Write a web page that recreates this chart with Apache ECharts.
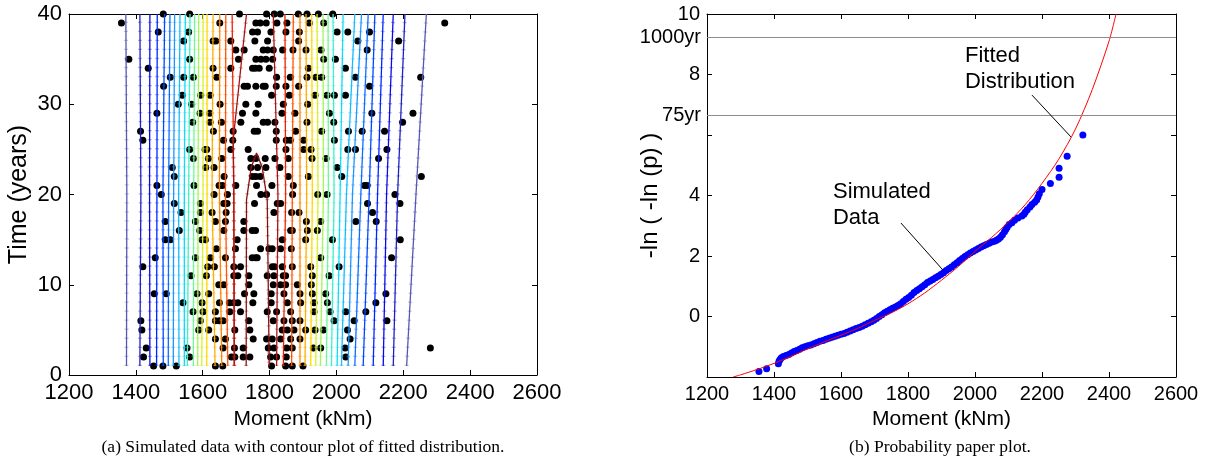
<!DOCTYPE html>
<html>
<head>
<meta charset="utf-8">
<script src="https://cdn.jsdelivr.net/npm/echarts@6/dist/echarts.min.js"></script>
<style>
  html, body { margin: 0; padding: 0; background: #ffffff; }
  #chart { width: 1210px; height: 470px; }
</style>
</head>
<body>
<div id="chart"></div>
<script>
// ---------------- data ----------------
const momentTicks = [1200, 1400, 1600, 1800, 2000, 2200, 2400, 2600];
const yearTicks = [0, 10, 20, 30, 40];

// Contour lines of the fitted distribution: moment at years 1, 20 and 40
const contourYears = [1, 20, 40];
const leftContours = [
  [1372, 1373, 1370], [1412, 1415, 1412], [1442, 1441, 1442], [1462, 1463, 1464],
  [1482, 1481, 1486], [1497, 1498, 1502], [1512, 1513, 1516], [1529, 1528, 1532],
  [1545, 1545, 1548], [1554, 1558, 1562], [1572, 1573, 1576], [1585, 1586, 1588],
  [1597, 1601, 1601], [1612, 1613, 1613], [1637, 1628, 1631], [1657, 1650, 1651],
  [1675, 1668, 1669], [1695, 1693, 1688]
];
const rightContours = [
  [2210, 2238, 2269], [2170, 2183, 2205], [2140, 2150, 2170], [2110, 2123, 2140],
  [2080, 2098, 2115], [2055, 2073, 2095], [2035, 2048, 2075], [2015, 2030, 2055],
  [2002, 2011, 2020], [1985, 1993, 1990], [1970, 1976, 1975], [1952, 1961, 1960],
  [1938, 1945, 1942], [1923, 1928, 1926], [1906, 1911, 1909], [1891, 1891, 1891],
  [1866, 1868, 1871], [1841, 1848, 1846], [1821, 1825, 1811]
];
const innerContourMoments = [1694, 1693, 1691, 1731];
const innerContourYears = [1, 20, 26, 40];
const peakContourMoments = [1730, 1731, 1745, 1761, 1778, 1793, 1799];
const peakContourYears = [1, 19.4, 23, 24.6, 23, 19.4, 1];

// Simulated moments, one list per year (years 1..40)
const simulatedByYear = [
  [1453, 1481, 1521, 1638, 1660, 1806, 1848, 1868, 1900],
  [1423, 1561, 1686, 1696, 1721, 1741, 1803, 1821, 1850, 2028],
  [1431, 1553, 1661, 1695, 1721, 1796, 1813, 1851, 1868, 1931, 1953, 2026, 2281],
  [1638, 1668, 1751, 1791, 1808, 1833, 1863, 1891, 2041],
  [1418, 1588, 1618, 1696, 1741, 1838, 1853, 1873, 1908, 1936, 1961, 2033],
  [1415, 1593, 1638, 1650, 1661, 1738, 1811, 1843, 1868, 1891, 1993, 2053, 2151],
  [1571, 1601, 1638, 1681, 1713, 1793, 1821, 1863, 1933, 1981, 2028, 2088],
  [1541, 1598, 1650, 1680, 1693, 1705, 1750, 1805, 1853, 1893, 1933, 1973, 2118],
  [1455, 1491, 1583, 1618, 1725, 1753, 1805, 1843, 1891, 1928, 1968, 2148],
  [1648, 1663, 1738, 1811, 1833, 1848, 1883, 1925],
  [1565, 1611, 1693, 1705, 1738, 1793, 1813, 1841, 1848, 1928, 1978],
  [1421, 1615, 1635, 1693, 1713, 1808, 1815, 1838, 1868, 1923, 2008],
  [1458, 1578, 1623, 1668, 1748, 1758, 1763, 1953, 2165],
  [1641, 1698, 1773, 1798, 1808, 1833, 1865],
  [1488, 1503, 1598, 1608, 1703, 1838, 1908, 1988, 2191],
  [1530, 1591, 1663, 1723, 1748, 1758, 1863, 1868, 1913, 1943],
  [1488, 1578, 1638, 1668, 1723, 1910, 1953, 2058, 2119],
  [1535, 1593, 1628, 1670, 1813, 1866, 1888, 2108],
  [1515, 1593, 1663, 1673, 1755, 1823, 1833, 2093, 2190],
  [1476, 1634, 1674, 1774, 1791, 1869, 1944, 1972, 2175],
  [1463, 1574, 1649, 1659, 1699, 1761, 1807, 1871, 2084, 2092],
  [1515, 1664, 1749, 1759, 1772, 1856, 1916, 2016, 2254],
  [1509, 1609, 1634, 1744, 1764, 1789, 1831, 2002],
  [1572, 1617, 1657, 1744, 1759, 1787, 1816, 1856, 1927, 1969, 2126],
  [1561, 1607, 1612, 1684, 1736, 1849, 1902, 1924, 2034, 2057, 2151],
  [1421, 1662, 1690, 1820, 1850, 1862, 1902, 1994],
  [1414, 1632, 1691, 1754, 1764, 1820, 1878, 1956, 2036, 2077, 2144],
  [1570, 1622, 1656, 1714, 1781, 1794, 1816, 1912, 1992, 2198],
  [1463, 1592, 1621, 1719, 1759, 1837, 1876, 1979, 2106, 2229],
  [1527, 1567, 1652, 1729, 1766, 1841, 1914],
  [1539, 1594, 1622, 1806, 1859, 1936, 1972, 1994, 2027],
  [1483, 1724, 1734, 1759, 1781, 1787, 1820, 1849, 1887, 2099],
  [1503, 1543, 1572, 1642, 1821, 1862, 1912, 1939, 1956, 2057, 2252],
  [1437, 1631, 1684, 1749, 1757, 1769, 1799, 1916, 2027],
  [1379, 1561, 1707, 1759, 1774, 1789, 1809, 1962, 1997],
  [1699, 1724, 1781, 1794, 1811, 1839, 1870, 1909, 1954, 2092],
  [1543, 1631, 1639, 1684, 1756, 1794, 1887, 2064, 2186],
  [1467, 1558, 1749, 1764, 1804, 1849, 1889, 2002, 2034, 2099],
  [1357, 1651, 1759, 1772, 1790, 1822, 1852, 1919, 1962, 2324],
  [1482, 1561, 1710, 1791, 1814, 1832, 1886, 1912, 1946, 1989]
];

// Probability paper: simulated data
const paperMoment = [
  1355, 1378, 1413, 1415, 1418, 1422, 1428, 1436, 1444, 1452, 1460, 1468, 1476, 1484, 1492,
  1501, 1510, 1519, 1528, 1537, 1546, 1555, 1564, 1573, 1582, 1591, 1600, 1609, 1618, 1627,
  1636, 1645, 1654, 1663, 1672, 1681, 1690, 1698, 1706, 1714, 1722, 1730, 1738, 1746, 1754,
  1762, 1770, 1778, 1786, 1794, 1802, 1810, 1818, 1826, 1834, 1842, 1850, 1858, 1866, 1874,
  1882, 1890, 1898, 1906, 1914, 1922, 1930, 1938, 1946, 1954, 1962, 1970, 1978, 1986, 1994,
  2002, 2010, 2018, 2026, 2034, 2042, 2050, 2058, 2064, 2070, 2076, 2082, 2088, 2092, 2096,
  2102, 2110, 2118, 2128, 2140, 2146, 2150, 2156, 2164, 2170, 2178, 2184, 2188, 2192, 2200,
  2225, 2251, 2251, 2275, 2322
];
const paperVariate = [
  -1.82, -1.73, -1.56, -1.48, -1.42, -1.36, -1.32, -1.29, -1.26, -1.21, -1.16, -1.12, -1.08, -1.03, -1.00,
  -0.97, -0.94, -0.90, -0.86, -0.82, -0.79, -0.75, -0.72, -0.69, -0.65, -0.62, -0.59, -0.56, -0.52, -0.48,
  -0.44, -0.40, -0.36, -0.32, -0.27, -0.22, -0.17, -0.12, -0.07, 0.00, 0.06, 0.12, 0.17, 0.22, 0.27,
  0.31, 0.36, 0.42, 0.50, 0.57, 0.63, 0.70, 0.79, 0.86, 0.92, 0.98, 1.05, 1.12, 1.17, 1.22,
  1.28, 1.33, 1.39, 1.45, 1.52, 1.58, 1.64, 1.71, 1.78, 1.85, 1.92, 1.98, 2.04, 2.10, 2.15,
  2.20, 2.25, 2.30, 2.34, 2.38, 2.42, 2.46, 2.49, 2.52, 2.56, 2.62, 2.70, 2.80, 2.88, 2.95,
  3.04, 3.10, 3.18, 3.26, 3.32, 3.38, 3.45, 3.53, 3.62, 3.70, 3.78, 3.85, 3.95, 4.06, 4.20,
  4.40, 4.60, 4.90, 5.30, 6.00
];

// Probability paper: fitted distribution
const fitMoment = [1278, 1300, 1350, 1400, 1450, 1500, 1550, 1600, 1650, 1700, 1750, 1800, 1850,
  1900, 1950, 2000, 2050, 2100, 2150, 2200, 2250, 2300, 2350, 2400, 2421];
const fitVariate = [-2.00, -1.93, -1.75, -1.55, -1.32, -1.07, -0.84, -0.62, -0.39, -0.13, 0.12, 0.42, 0.78,
  1.20, 1.65, 2.15, 2.62, 3.12, 3.70, 4.40, 5.20, 6.20, 7.50, 9.10, 10.00];

// Return-period levels on the reduced-variate axis
const returnLabels = ['1000yr', '75yr'];
const returnVariate = [9.22, 6.64];
const variateTicks = [-2, 0, 2, 4, 6, 8, 10];
const hiddenVariateTicks = [-2, 6];

// ---------------- styles ----------------
const contourPalette = [
  '#5656b4', '#2020c0', '#0a0ae6', '#0026ff', '#0048ff', '#0a6eff', '#1e96ff', '#16bcff',
  '#10dcf4', '#3ef0c8', '#70f896', '#a6f45e', '#d8f02a', '#ffd800', '#ffae00', '#ff8400',
  '#ff5400', '#e82400', '#a81414'
];
const leftColorIndex = [0, 1, 2, 3, 4, 5, 6, 7, 8, 9, 10, 11, 12, 13, 14, 15, 16, 17];
const peakColor = '#8c1010';
const FONT = 'Liberation Sans, Arial, sans-serif';

const chart = echarts.init(document.getElementById('chart'), null, { renderer: 'canvas' });

const series = [];

function addContour(points, color) {
  series.push({
    type: 'line', xAxisIndex: 0, yAxisIndex: 0, data: points,
    symbol: 'none', silent: true, z: 3, animation: false,
    lineStyle: { color: color, width: 1.3 }
  });
  // small comb marks at each year along the contour
  series.push({
    type: 'line', xAxisIndex: 0, yAxisIndex: 0, data: points,
    symbol: 'none', silent: true, z: 2, animation: false,
    lineStyle: { color: color, width: 4, opacity: 0.35, type: [1.3, 7.725], cap: 'butt' }
  });
}

leftContours.forEach((xs, i) => {
  addContour(contourYears.map((yr, k) => [xs[k], yr]), contourPalette[leftColorIndex[i]]);
});
rightContours.forEach((xs, i) => {
  addContour(contourYears.map((yr, k) => [xs[k], yr]), contourPalette[i]);
});
addContour(innerContourYears.map((yr, k) => [innerContourMoments[k], yr]), contourPalette[18]);
addContour(peakContourYears.map((yr, k) => [peakContourMoments[k], yr]), peakColor);

const scatterPoints = [];
simulatedByYear.forEach((row, i) => row.forEach(m => scatterPoints.push([m, i + 1])));
series.push({
  type: 'scatter', xAxisIndex: 0, yAxisIndex: 0, data: scatterPoints,
  symbol: 'circle', symbolSize: 7, clip: false, z: 1, animation: false,
  itemStyle: { color: '#000000', opacity: 1 }
});

series.push({
  type: 'scatter', xAxisIndex: 2, yAxisIndex: 2,
  data: paperMoment.map((m, i) => [m, paperVariate[i]]),
  symbol: 'circle', symbolSize: 7, z: 3, animation: false,
  itemStyle: { color: '#0000ff', opacity: 1 }
});
series.push({
  type: 'line', xAxisIndex: 2, yAxisIndex: 2,
  data: fitMoment.map((m, i) => [m, fitVariate[i]]),
  symbol: 'none', smooth: 0.3, z: 4, animation: false,
  lineStyle: { color: '#ff0000', width: 1 },
  markLine: {
    silent: true, symbol: 'none', animation: false,
    lineStyle: { color: '#8c8c8c', width: 1, type: 'solid' },
    label: { show: true, position: 'start', color: '#000', fontSize: 20, fontFamily: FONT, distance: 6 },
    data: returnVariate.map((v, i) => ({ yAxis: v, label: { formatter: returnLabels[i] } }))
  }
});

const axisLine = { show: true, onZero: false, lineStyle: { color: '#000', width: 1 } };
const tickIn = { show: true, inside: true, length: 5, lineStyle: { color: '#000', width: 1 } };

function momentAxis(gridIndex, position, showLabels, fontSize) {
  return {
    type: 'value', gridIndex, position, min: 1200, max: 2600, interval: 200,
    axisLine, axisTick: tickIn, splitLine: { show: false },
    axisLabel: {
      show: showLabels, color: '#000', fontSize, fontFamily: FONT, margin: 7,
      formatter: v => (momentTicks.indexOf(v) >= 0 ? String(v) : '')
    },
    name: showLabels ? 'Moment (kNm)' : '', nameLocation: 'middle', nameGap: 27,
    nameTextStyle: { color: '#000', fontSize: 21, fontFamily: FONT }
  };
}

chart.setOption({
  animation: false,
  backgroundColor: '#ffffff',
  grid: [
    { left: 69, top: 14, width: 468, height: 361, containLabel: false },
    { left: 707, top: 14, width: 469, height: 363, containLabel: false }
  ],
  xAxis: [
    momentAxis(0, 'bottom', true, 22),
    momentAxis(0, 'top', false, 22),
    momentAxis(1, 'bottom', true, 20),
    momentAxis(1, 'top', false, 20)
  ],
  yAxis: [
    {
      type: 'value', gridIndex: 0, position: 'left', min: 0, max: 40, interval: 10,
      axisLine, axisTick: tickIn, splitLine: { show: false },
      axisLabel: {
        color: '#000', fontSize: 22, fontFamily: FONT, margin: 7,
        formatter: v => (yearTicks.indexOf(v) >= 0 ? String(v) : '')
      },
      name: 'Time (years)', nameLocation: 'middle', nameGap: 37, nameRotate: 90,
      nameTextStyle: { color: '#000', fontSize: 25, fontFamily: FONT }
    },
    {
      type: 'value', gridIndex: 0, position: 'right', min: 0, max: 40, interval: 10,
      axisLine, axisTick: tickIn, axisLabel: { show: false }, splitLine: { show: false }
    },
    {
      type: 'value', gridIndex: 1, position: 'left', min: -2, max: 10, interval: 2,
      axisLine, axisTick: tickIn, splitLine: { show: false },
      axisLabel: {
        color: '#000', fontSize: 20, fontFamily: FONT, margin: 7,
        formatter: v => (variateTicks.indexOf(v) >= 0 && hiddenVariateTicks.indexOf(v) < 0 ? String(v) : '')
      },
      name: '-ln ( -ln (p) )', nameLocation: 'middle', nameGap: 45, nameRotate: 90,
      nameTextStyle: { color: '#000', fontSize: 24, fontFamily: FONT }
    },
    {
      type: 'value', gridIndex: 1, position: 'right', min: -2, max: 10, interval: 2,
      axisLine, axisTick: tickIn, axisLabel: { show: false }, splitLine: { show: false }
    }
  ],
  series
});

// Annotations on the probability paper, anchored in data coordinates
const notes = [
  { lines: ['Fitted', 'Distribution'], at: [1970, 8.58], from: [2170, 7.32], to: [2287, 5.93] },
  { lines: ['Simulated', 'Data'], at: [1576, 4.08], from: [1779, 3.09], to: [1904, 1.54] }
];
const graphics = [];
notes.forEach(n => {
  const p = chart.convertToPixel({ xAxisIndex: 2, yAxisIndex: 2 }, n.at);
  n.lines.forEach((t, i) => {
    graphics.push({
      type: 'text', left: p[0], top: p[1] - 12 + i * 26, silent: true,
      style: { text: t, fill: '#000', font: '22px ' + FONT }
    });
  });
  const a = chart.convertToPixel({ xAxisIndex: 2, yAxisIndex: 2 }, n.from);
  const b = chart.convertToPixel({ xAxisIndex: 2, yAxisIndex: 2 }, n.to);
  graphics.push({
    type: 'line', silent: true, z: 10,
    shape: { x1: a[0], y1: a[1], x2: b[0], y2: b[1] },
    style: { stroke: '#000', lineWidth: 1 }
  });
});
graphics.push({
  type: 'text', x: 303, y: 447, silent: true,
  style: { text: '(a) Simulated data with contour plot of fitted distribution.', fill: '#000',
    font: '17.5px "Liberation Serif", "Times New Roman", serif', textAlign: 'center', textVerticalAlign: 'middle' }
});
graphics.push({
  type: 'text', x: 940, y: 447, silent: true,
  style: { text: '(b) Probability paper plot.', fill: '#000',
    font: '17.5px "Liberation Serif", "Times New Roman", serif', textAlign: 'center', textVerticalAlign: 'middle' }
});
chart.setOption({ graphic: graphics });
</script>
</body>
</html>
